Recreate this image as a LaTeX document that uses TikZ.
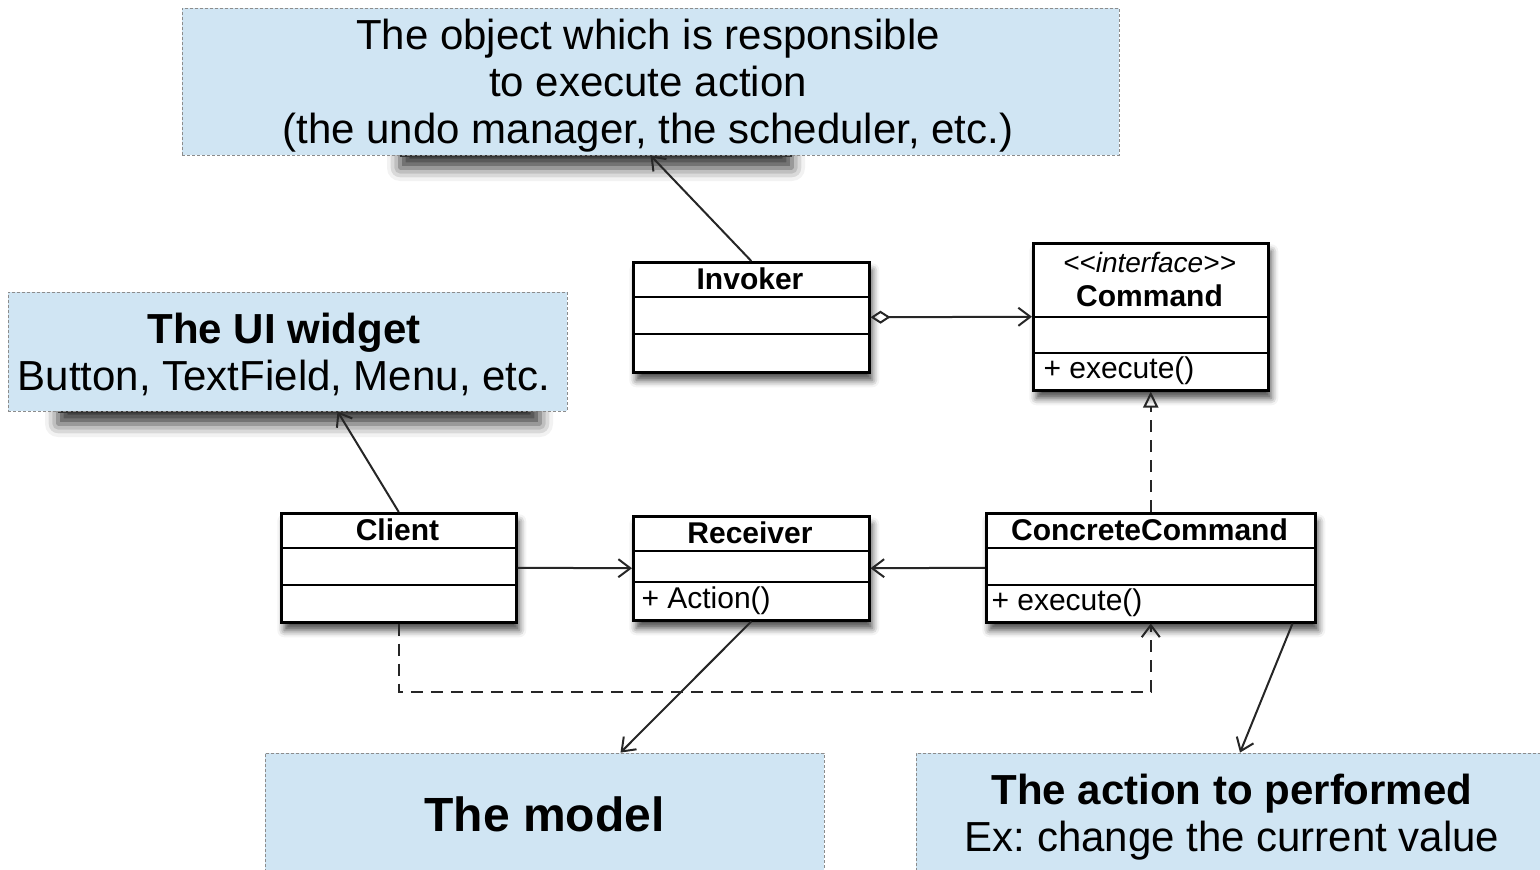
\documentclass[tikz,border=0pt]{standalone}
\usepackage{fontspec}
\setmainfont{Liberation Sans}
\frenchspacing
\usetikzlibrary{arrows.meta,shadows.blur,calc}
\definecolor{notefill}{RGB}{208,229,243}
\definecolor{notedraw}{RGB}{140,140,140}
\begin{document}
\begin{tikzpicture}[x=1pt,y=-1pt,
  umlbox/.style={draw=black, line width=2.5pt, fill=white, inner sep=0pt, anchor=north west,
    blur shadow={shadow xshift=3pt, shadow yshift=-8pt, shadow blur radius=7pt, shadow opacity=70}},
  hiddenshadow/.style={fill=white, blur shadow={shadow xshift=0pt, shadow yshift=-14pt, shadow blur radius=13pt, shadow opacity=80}},
  note/.style={draw=notedraw, densely dashed, line width=0.8pt, fill=notefill, inner sep=0pt},
  notetext/.style={align=center, inner sep=0pt, font=\fontsize{42}{47}\selectfont},
  umlname/.style={font=\fontsize{30}{34}\selectfont\bfseries},
  umltext/.style={font=\fontsize{30}{34}\selectfont, anchor=west},
  compline/.style={line width=2pt},
  conn/.style={line width=2pt, draw=black!85},
  opena/.style={-{Straight Barb[length=12pt,width=18pt]}},
  dashconn/.style={dash pattern=on 12pt off 8pt},
]
\useasboundingbox (0,0) rectangle (1540,870);

% shadows of hidden boxes under the notes
\path[hiddenshadow] (400,60) rectangle (792,154);
\draw[line width=1.5pt, black!80] (400,156) -- (792,156);
\path[hiddenshadow] (58,360) rectangle (540,410);
\draw[line width=1.5pt, black!80] (58,412) -- (527,412);

% notes
\node[note, minimum width=937pt, minimum height=147pt] (topnote) at (650.5,81.5) {};
\node[notetext] (topnotetext) at (648,85.5)
  {The object which is responsible\\to execute action\\(the undo manager, the scheduler, etc.)};
\node[note, minimum width=559pt, minimum height=119pt] (uinote) at (287.5,351.5) {};
\node[notetext] (uinotetext) at (284,354)
  {\textbf{The UI widget}\\Button, TextField, Menu, etc.};
\node[note, minimum width=559pt, minimum height=121pt] (model) at (544.5,813.5) {};
\node[notetext, font=\fontsize{48}{52}\selectfont\bfseries] (modeltext) at (544.5,814.5) {The model};
\node[note, minimum width=632pt, minimum height=121pt] (action) at (1232,813.5) {};
\node[notetext] (actiontext) at (1232,817.5)
  {\textbf{The action to performed}\\Ex: change the current value};

% UML classes
\node[umlbox, minimum width=236pt, minimum height=110pt] (invoker) at (632,261) {};
\draw[compline] (632,297) -- (868,297);
\draw[compline] (632,334) -- (868,334);
\node[umlname] (invokername) at (750,279) {Invoker};

\node[umlbox, minimum width=235pt, minimum height=147pt] (command) at (1032,242) {};
\draw[compline] (1032,317) -- (1267,317);
\draw[compline] (1032,353) -- (1267,353);
\node[font=\fontsize{28}{32}\selectfont\itshape] (commandstereo) at (1149.5,262) {<{}<interface>{}>};
\node[umlname] (commandname) at (1149.5,296) {Command};
\node[umltext] (commandop) at (1040,371) {+ execute()};

\node[umlbox, minimum width=235pt, minimum height=109pt] (client) at (280,512) {};
\draw[compline] (280,548) -- (515,548);
\draw[compline] (280,585) -- (515,585);
\node[umlname] (clientname) at (397.5,530) {Client};

\node[umlbox, minimum width=236pt, minimum height=104pt] (receiver) at (632,515) {};
\draw[compline] (632,551) -- (868,551);
\draw[compline] (632,582) -- (868,582);
\node[umlname] (receivername) at (750,533) {Receiver};
\node[umltext] (receiverop) at (638,601) {+ Action()};

\node[umlbox, minimum width=329pt, minimum height=109pt] (concrete) at (985,512) {};
\draw[compline] (985,548) -- (1314,548);
\draw[compline] (985,585) -- (1314,585);
\node[umlname] (concretename) at (1149.5,530) {ConcreteCommand};
\node[umltext] (concreteop) at (988,603) {+ execute()};

% connectors
\draw[conn, opena] (invoker.north) -- (topnote.south);
\draw[conn, opena] (client.north) -- ($(uinote.south)+(50,0)$);
\draw[conn, {Diamond[open,length=20pt,width=13pt]}-{Straight Barb[length=12pt,width=18pt]}] (invoker.east) -- (command.west);
\draw[conn, dashconn, -{Triangle[open,length=16pt,width=15pt]}] (concrete.north) -- (command.south);
\draw[conn, opena] (client.east) -- (receiver.west);
\draw[conn, opena] (concrete.west) -- (receiver.east);
\draw[conn, dashconn, opena] (client.south) -- ++(0,68) -| (concrete.south);
\draw[conn, opena] (receiver.south) -- ($(model.north)+(76,0)$);
\draw[conn, opena] ($(concrete.south east)+(-24,0)$) -- ($(action.north)+(8,0)$);
\end{tikzpicture}
\end{document}
